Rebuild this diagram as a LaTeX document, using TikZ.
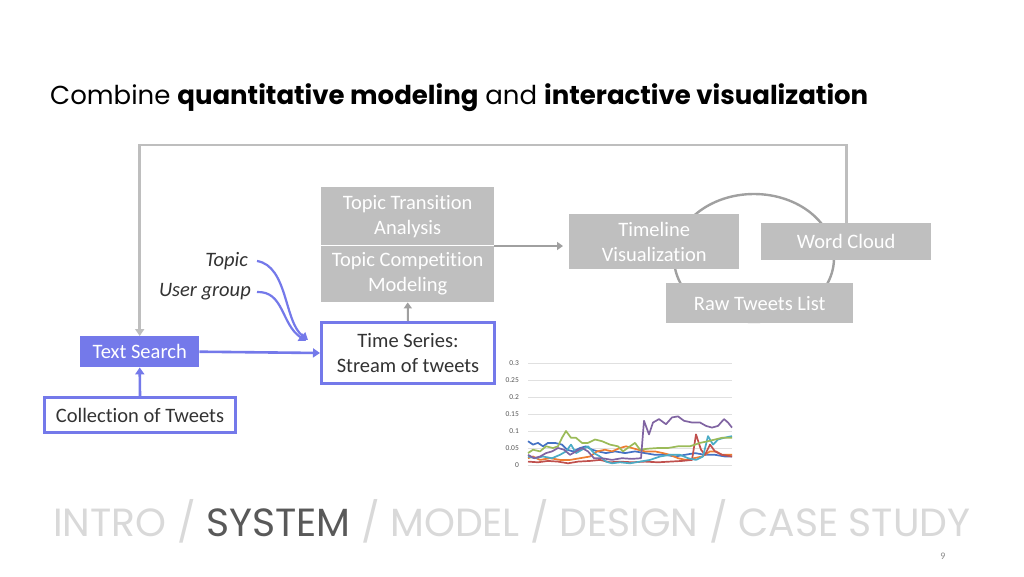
\documentclass[tikz,border=0pt]{standalone}
\usepackage{fontspec}
\setmainfont{Carlito}[Ligatures=NoCommon]
\newfontfamily\popfont{Poppins}
\usetikzlibrary{arrows.meta}
\definecolor{purp}{RGB}{116,121,234}
\definecolor{boxgrey}{RGB}{191,191,191}
\definecolor{linegrey}{RGB}{190,190,190}
\definecolor{arrgrey}{RGB}{160,160,160}
\definecolor{darktext}{RGB}{51,51,51}
\definecolor{footlight}{RGB}{217,217,217}
\definecolor{footdark}{RGB}{89,89,89}
\definecolor{cblue}{RGB}{68,114,196}
\definecolor{corange}{RGB}{237,125,49}
\definecolor{cgreen}{RGB}{155,187,89}
\definecolor{cred}{RGB}{192,80,77}
\definecolor{ccyan}{RGB}{75,172,198}
\definecolor{cviolet}{RGB}{128,100,162}
\tikzset{
  body/.style={font=\fontsize{20.5}{25}\selectfont, align=center, inner sep=0pt, anchor=north west},
  greybox/.style={body, fill=boxgrey, text=white},
  purpbox/.style={body, draw=purp, line width=3pt, fill=white, text=darktext},
  purpfill/.style={body, fill=purp, text=white},
  purparrow/.style={draw=purp, line width=2.6pt, -{Triangle[width=9pt,length=7pt]}},
  feedback/.style={draw=linegrey, line width=2.6pt, -{Triangle[width=9pt,length=7pt]}},
  greyarrow/.style={draw=arrgrey, line width=2pt, -{Triangle[width=8pt,length=6pt]}},
  inlabel/.style={font=\fontsize{20.5}{24}\selectfont\itshape, text=darktext, inner sep=0pt, anchor=east},
  series/.style={line width=1.7pt, line join=round},
  ticklabel/.style={font=\fontsize{7.5}{8}\selectfont, text=footdark, anchor=east, inner sep=0pt}
}
\begin{document}
\begin{tikzpicture}[x=1pt, y=-1pt]
\useasboundingbox (0,0) rectangle (1024,576);
\fill[white] (0,0) rectangle (1024,576);

% title
\node[anchor=base west, inner sep=0pt, font=\popfont\fontsize{26}{30}\selectfont] (title) at (50,104)
  {Combine \textbf{quantitative modeling} and \textbf{interactive visualization}};

% ellipse behind the view boxes
\draw[draw=arrgrey, line width=2.4pt] (754,258) ellipse [x radius=80pt, y radius=64pt];

% nodes
\node[greybox, minimum width=173pt, minimum height=58pt] (tta) at (321,187) {Topic Transition\\Analysis};
\node[greybox, minimum width=173pt, minimum height=56pt] (tcm) at (321,246) {Topic Competition\\Modeling};
\node[greybox, minimum width=170pt, minimum height=55pt] (tl) at (569,214) {Timeline\\Visualization};
\node[greybox, minimum width=170pt, minimum height=37pt] (wc) at (761,223) {Word Cloud};
\node[greybox, minimum width=187pt, minimum height=40pt] (raw) at (666,283) {Raw Tweets List};
\node[purpbox, minimum width=173pt, minimum height=61pt] (tsr) at (320,321) {Time Series:\\Stream of tweets};
\node[purpfill, minimum width=119pt, minimum height=31pt] (ts) at (80,336) {Text Search};
\node[purpbox, minimum width=191pt, minimum height=35pt] (coll) at (43,396) {Collection of Tweets};

\node[inlabel] (topic) at (248,261) {Topic};
\node[inlabel] (ugroup) at (251,292) {User group};

% connectors
\draw[feedback] (wc.north) -- ++(0,-78) -| (ts.north);
\draw[purparrow] (coll.north) -- (ts.south);
\draw[purparrow] (ts.east) -- (tsr.west);
\draw[greyarrow] (tsr.north) -- (tcm.south);
\draw[greyarrow, shorten >=6pt] (tcm.north east) -- (tcm.north east -| tl.west);

\coordinate (topicend) at (308,340);
\coordinate (ugend) at (306,341);
\draw[purparrow, line width=2.2pt] ([xshift=9pt]topic.east) .. controls (288,266) and (284,322) .. (topicend);
\draw[purparrow, line width=2.2pt] ([xshift=6pt]ugroup.east) .. controls (284,291) and (281,324) .. (ugend);

% chart
\begin{scope}[shift={(0,465)}, yscale=-340]
  \foreach \v in {0,0.05,0.1,0.15,0.2,0.25,0.3} {
    \draw[black!12, line width=0.6pt] (528,\v) -- (732,\v);
    \node[ticklabel] at (519,\v) {\v};
  }
  \draw[series, cblue] plot coordinates {(528,0.07) (533,0.06) (538,0.065) (543,0.055) (548,0.065) (555,0.065) (562,0.06) (567,0.045) (573,0.04) (580,0.05) (586,0.055) (592,0.045) (598,0.04) (606,0.035) (615,0.04) (625,0.035) (635,0.04) (645,0.035) (655,0.03) (665,0.03) (675,0.025) (685,0.03) (695,0.035) (705,0.03) (715,0.03) (725,0.025) (732,0.025)};
  \draw[series, corange] plot coordinates {(528,0.02) (533,0.025) (540,0.015) (550,0.02) (560,0.015) (570,0.015) (580,0.02) (590,0.025) (597,0.04) (605,0.045) (612,0.04) (620,0.05) (626,0.055) (632,0.05) (638,0.045) (645,0.04) (655,0.04) (663,0.035) (670,0.03) (678,0.02) (686,0.015) (694,0.02) (702,0.025) (710,0.04) (716,0.04) (722,0.03) (732,0.03)};
  \draw[series, cred] plot coordinates {(528,0.01) (538,0.008) (548,0.012) (558,0.01) (568,0.005) (578,0.01) (590,0.012) (600,0.015) (610,0.008) (620,0.01) (632,0.008) (645,0.01) (658,0.008) (670,0.01) (682,0.012) (692,0.015) (696,0.09) (701,0.045) (705,0.03) (710,0.06) (715,0.04) (722,0.03) (732,0.025)};
  \draw[series, ccyan] plot coordinates {(528,0.025) (535,0.02) (543,0.025) (552,0.02) (560,0.03) (566,0.04) (571,0.06) (576,0.035) (582,0.045) (588,0.055) (594,0.035) (600,0.025) (606,0.01) (612,0.005) (620,0.008) (630,0.005) (640,0.01) (650,0.015) (660,0.025) (670,0.03) (680,0.03) (688,0.02) (696,0.015) (703,0.025) (708,0.085) (713,0.06) (718,0.075) (724,0.08) (732,0.085)};
  \draw[series, cgreen] plot coordinates {(528,0.035) (533,0.045) (540,0.04) (546,0.055) (553,0.05) (558,0.055) (562,0.08) (566,0.1) (571,0.08) (576,0.08) (582,0.065) (588,0.065) (595,0.075) (602,0.07) (610,0.06) (618,0.055) (623,0.04) (630,0.055) (635,0.065) (640,0.045) (648,0.048) (658,0.05) (668,0.05) (678,0.055) (690,0.055) (700,0.065) (708,0.07) (715,0.075) (722,0.08) (732,0.08)};
  \draw[series, cviolet] plot coordinates {(528,0.03) (534,0.02) (540,0.025) (546,0.035) (552,0.04) (558,0.05) (564,0.045) (570,0.03) (576,0.04) (582,0.05) (588,0.04) (594,0.02) (602,0.02) (612,0.015) (622,0.02) (632,0.018) (641,0.02) (644,0.13) (649,0.09) (653,0.125) (659,0.135) (666,0.12) (672,0.14) (678,0.143) (684,0.13) (692,0.125) (700,0.125) (706,0.115) (712,0.11) (718,0.115) (724,0.135) (728,0.125) (732,0.11)};
\end{scope}

% footer
\node[anchor=base west, inner sep=0pt, text depth=0pt, font=\popfont\fontsize{39.3}{42}\selectfont, text=footlight] (footer) at (53,536)
  {INTRO / \textcolor{footdark}{SYSTEM} / MODEL / DESIGN / CASE STUDY};
\node[anchor=base, inner sep=0pt, text depth=0pt, font=\fontsize{10}{12}\selectfont, text=footdark!70] (pagenum) at (943,559) {9};
\end{tikzpicture}
\end{document}
